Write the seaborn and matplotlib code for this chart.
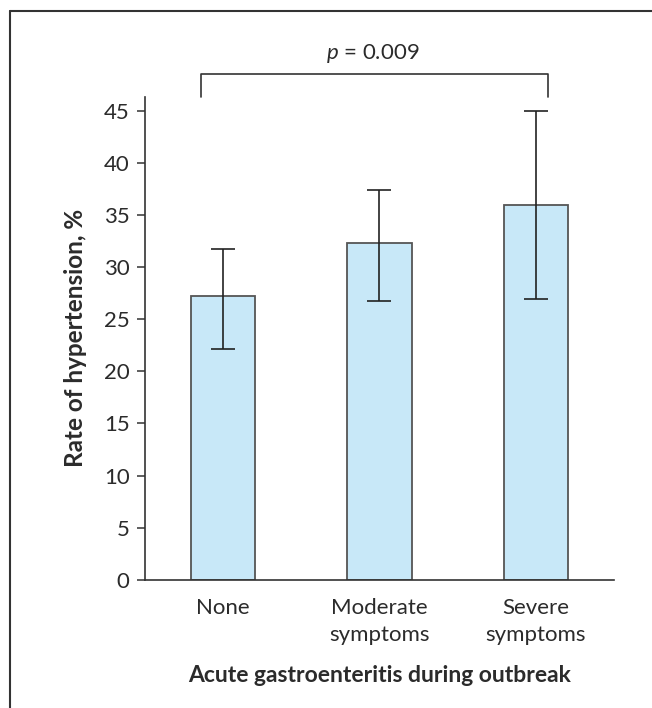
import numpy as np
import pandas as pd
import matplotlib
matplotlib.use("Agg")
import matplotlib.pyplot as plt
from matplotlib.lines import Line2D
import seaborn as sns

# values
categories = ["None", "Moderate\nsymptoms", "Severe\nsymptoms"]
rates = [27.2, 32.3, 35.9]
ci_low = [22.1, 26.7, 26.9]
ci_high = [31.7, 37.4, 45.0]
y_ticks = [0, 5, 10, 15, 20, 25, 30, 35, 40, 45]
p_label = "$p$ = 0.009"

sns.set_style("white")
plt.rcParams["font.family"] = ["Lato", "DejaVu Sans"]
plt.rcParams["mathtext.fontset"] = "custom"
plt.rcParams["mathtext.it"] = "Lato:italic"
plt.rcParams["mathtext.rm"] = "Lato"

txt = "#2b2b2b"
df = pd.DataFrame({"group": categories, "rate": rates})

fig = plt.figure(figsize=(6.52, 7.08), dpi=100)
ax = fig.add_axes([0.222, 0.181, 0.72, 0.682])

sns.barplot(data=df, x="group", y="rate", color="#c8e8f8", width=0.41,
            edgecolor="#555555", linewidth=1.3, saturation=1, ax=ax)

xs = np.arange(len(categories))
lo = np.array(rates) - np.array(ci_low)
hi = np.array(ci_high) - np.array(rates)
ax.errorbar(xs, rates, yerr=[lo, hi], fmt="none", ecolor="#222222",
            elinewidth=1.2, capsize=8.5, capthick=1.2)

ax.set_xlim(-0.5, 2.5)
ax.set_ylim(0, 46.3)
ax.set_yticks(y_ticks)
ax.set_xticks(xs)
ax.set_xticklabels(categories, linespacing=1.45)
ax.set_xticks([-0.5, 0.5, 1.5, 2.5], minor=True)
ax.tick_params(axis="x", which="major", length=0, pad=13, labelsize=16, labelcolor=txt)
ax.tick_params(axis="x", which="minor", length=6, width=1.1, direction="out", color="#333333")
ax.tick_params(axis="y", length=6, width=1.1, direction="out", color="#333333",
               labelsize=16, labelcolor=txt, pad=5, left=True)

for s in ["top", "right"]:
    ax.spines[s].set_visible(False)
for s in ["left", "bottom"]:
    ax.spines[s].set_color("#333333")
    ax.spines[s].set_linewidth(1.2)

ax.set_ylabel("Rate of hypertension, %", fontsize=17.5, fontweight="bold",
              color=txt, labelpad=12)
ax.set_xlabel("Acute gastroenteritis during outbreak", fontsize=16.5,
              fontweight="bold", color=txt, labelpad=14)

# significance bracket
bx = [-0.14, -0.14, 2.08, 2.08]
by = [46.3, 48.5, 48.5, 46.3]
ax.plot(bx, by, color="#333333", lw=1.2, clip_on=False)
ax.text(0.96, 49.4, p_label, ha="center", va="bottom", fontsize=16,
        color=txt, clip_on=False)

# partial frame (top and left edge)
fig.add_artist(Line2D([10 / 652, 1.0], [1 - 11 / 708, 1 - 11 / 708],
                      transform=fig.transFigure, color="#333333", lw=1.5))
fig.add_artist(Line2D([10 / 652, 10 / 652], [0.0, 1 - 11 / 708],
                      transform=fig.transFigure, color="#333333", lw=1.5))

fig.savefig("out.png", dpi=100)
